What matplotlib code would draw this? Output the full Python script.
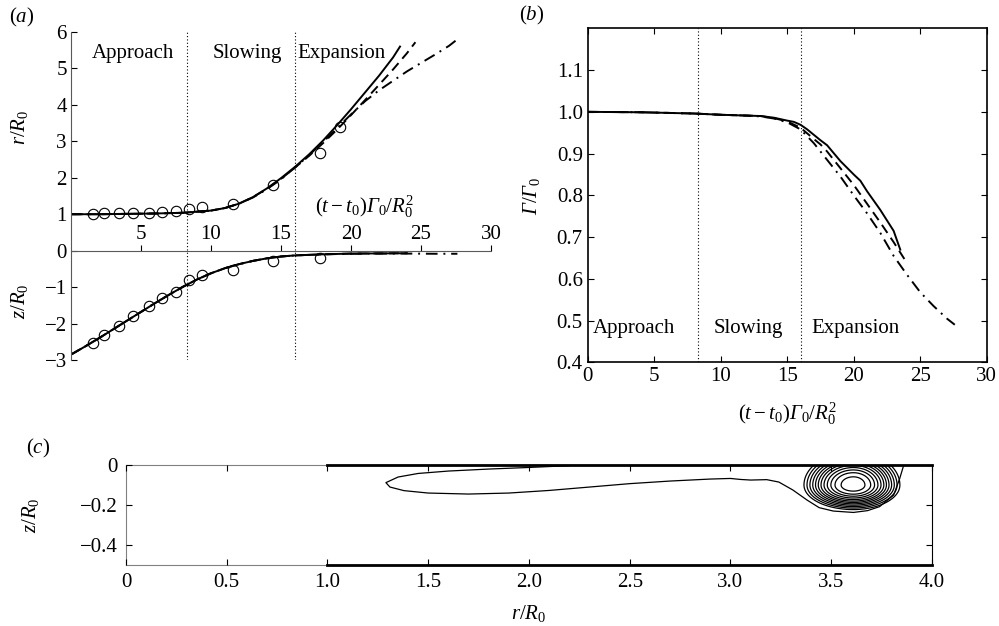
import numpy as np
import matplotlib
matplotlib.use("Agg")
import matplotlib.pyplot as plt

plt.rcParams['font.family'] = ['Liberation Serif', 'DejaVu Serif']
plt.rcParams['mathtext.fontset'] = 'custom'
plt.rcParams['mathtext.rm'] = 'Liberation Serif'
plt.rcParams['mathtext.it'] = 'Liberation Serif:italic'
plt.rcParams['mathtext.bf'] = 'Liberation Serif:bold'
# \mathsf is used only to get a slanted capital Gamma
plt.rcParams['mathtext.sf'] = 'Liberation Serif:italic'
plt.rcParams['font.size'] = 15

# ---- panel (a): ring radius r/R0 and height z/R0 vs time
t_exp = [1.6, 2.35, 3.45, 4.4, 5.55, 6.5, 7.5, 8.45, 9.35, 11.6, 14.4, 17.8, 19.2]
r_exp = [1.01, 1.03, 1.04, 1.04, 1.04, 1.06, 1.08, 1.15, 1.19, 1.29, 1.8, 2.68, 3.39]
z_exp = [-2.52, -2.32, -2.06, -1.79, -1.53, -1.30, -1.13, -0.81, -0.66, -0.54, -0.27, -0.20]

t_r_solid = [0, 2, 4, 6, 8, 9, 10, 11, 12, 13, 14, 15, 16, 17, 18, 19, 20, 21, 22, 23, 23.5]
r_solid = [1.0, 1.0, 1.01, 1.02, 1.04, 1.07, 1.1, 1.17, 1.29, 1.47, 1.71, 1.99, 2.3, 2.64,
           3.02, 3.44, 3.88, 4.34, 4.8, 5.3, 5.6]
t_r_dash = [0, 2, 4, 6, 8, 9, 10, 11, 12, 13, 14, 15, 16, 17, 18, 19, 20, 21, 22, 23, 24, 24.6]
r_dash = [1.0, 1.0, 1.01, 1.02, 1.04, 1.07, 1.1, 1.17, 1.29, 1.47, 1.7, 1.97, 2.28, 2.6,
          2.95, 3.32, 3.72, 4.13, 4.55, 4.97, 5.42, 5.72]
t_r_dd = [0, 2, 4, 6, 8, 9, 10, 11, 12, 13, 14, 15, 16, 17, 18, 19, 20, 21, 22, 23, 24, 25,
          26, 27, 27.6]
r_dd = [1.0, 1.0, 1.01, 1.02, 1.04, 1.07, 1.1, 1.17, 1.29, 1.46, 1.69, 1.96, 2.28, 2.62,
        2.98, 3.36, 3.74, 4.1, 4.4, 4.66, 4.92, 5.15, 5.38, 5.62, 5.8]

t_z = [0, 1, 2, 3, 4, 5, 6, 7, 8, 9, 10, 11, 12, 13, 14, 15, 16, 18, 20, 22, 24]
z_solid = [-2.85, -2.63, -2.40, -2.16, -1.92, -1.68, -1.44, -1.21, -0.99, -0.79, -0.62,
           -0.48, -0.37, -0.28, -0.21, -0.16, -0.13, -0.10, -0.08, -0.075, -0.07]
t_z_dd = [0, 1, 2, 3, 4, 5, 6, 7, 8, 9, 10, 11, 12, 13, 14, 15, 16, 18, 20, 22, 24, 26, 27.6]
z_dd = [-2.85, -2.63, -2.40, -2.16, -1.92, -1.68, -1.44, -1.21, -0.99, -0.79, -0.62,
        -0.48, -0.37, -0.28, -0.21, -0.16, -0.13, -0.10, -0.085, -0.08, -0.08, -0.085, -0.085]

# ---- panel (b): circulation
t_g_solid = [0, 4, 8, 10, 12, 13, 14, 15, 15.5, 16, 16.5, 17, 17.5, 18, 19, 20, 20.5, 21, 22,
             23, 23.5]
g_solid = [1.0, 0.999, 0.996, 0.993, 0.991, 0.99, 0.986, 0.979, 0.976, 0.969, 0.958, 0.945,
           0.932, 0.92, 0.882, 0.85, 0.835, 0.81, 0.765, 0.715, 0.67]
t_g_dash = [0, 4, 8, 10, 12, 13, 14, 15, 16, 17, 17.5, 18, 19, 20, 21, 22, 23, 24]
g_dash = [1.0, 0.999, 0.996, 0.993, 0.991, 0.99, 0.985, 0.977, 0.962, 0.935, 0.922, 0.905,
          0.865, 0.825, 0.78, 0.735, 0.688, 0.638]
t_g_dd = [0, 4, 8, 10, 12, 13, 14, 15, 16, 17, 18, 19, 20, 21, 22, 23, 24, 25, 26, 27, 27.6]
g_dd = [1.0, 0.999, 0.996, 0.993, 0.991, 0.989, 0.984, 0.975, 0.958, 0.925, 0.885, 0.845,
        0.80, 0.757, 0.71, 0.655, 0.61, 0.568, 0.535, 0.505, 0.49]

phase_bounds = [8.3, 16.0]
phase_names = ['Approach', 'Slowing', 'Expansion']

# ---- panel (c): vorticity contours
tail_r = [2.2, 2.0, 1.8, 1.6, 1.45, 1.35, 1.29, 1.31, 1.38, 1.5, 1.7, 1.9, 2.1, 2.3, 2.5,
          2.7, 2.9, 3.0, 3.05, 3.1, 3.18, 3.24, 3.31, 3.38, 3.44, 3.51, 3.61, 3.68, 3.74,
          3.81, 3.84, 3.86]
tail_z = [-0.003, -0.012, -0.02, -0.03, -0.042, -0.06, -0.088, -0.11, -0.128, -0.14, -0.145,
          -0.14, -0.127, -0.11, -0.093, -0.08, -0.07, -0.067, -0.072, -0.075, -0.073, -0.085,
          -0.125, -0.175, -0.213, -0.23, -0.237, -0.228, -0.208, -0.15, -0.067, 0.0]
core_r, core_z = 3.61, -0.10
core_sx = [0.17, 0.16]     # left / right spread
core_sz = [0.085, 0.115]   # below / above spread
core_levels = [0.125, 0.16, 0.2, 0.245, 0.295, 0.35, 0.41, 0.48, 0.56, 0.65, 0.75, 0.88]

fig = plt.figure(figsize=(9.99, 6.26), dpi=100)
GAM = r'\mathsf{\Gamma}'
tlabel = r'$(t-t_0)' + GAM + r'_0/R_0^2$'

# ================= (a)
ax1 = fig.add_axes([0.0711, 0.4249, 0.4204, 0.524])
ax1.set_xlim(0, 30)
ax1.set_ylim(-3, 6)
ax1.plot(t_r_solid, r_solid, 'k-', lw=1.4)
ax1.plot(t_r_dash, r_dash, 'k', ls=(0, (5, 3)), lw=1.4)
ax1.plot(t_r_dd, r_dd, 'k', ls=(0, (6, 3, 1, 3)), lw=1.4)
ax1.plot(t_z, z_solid, 'k-', lw=1.4)
ax1.plot(t_z, z_solid, 'k', ls=(0, (5, 3)), lw=1.4)
ax1.plot(t_z_dd, z_dd, 'k', ls=(0, (6, 3, 1, 3)), lw=1.4)
ax1.plot(t_exp, r_exp, 'o', mfc='none', mec='k', ms=7.5, mew=0.8)
ax1.plot(t_exp[:len(z_exp)], z_exp, 'o', mfc='none', mec='k', ms=7.5, mew=0.8)
for xb in phase_bounds:
    ax1.axvline(xb, color='k', ls=(0, (1, 2)), lw=0.8)
for xp, name in zip([1.5, 10.1, 16.15], phase_names):
    ax1.text(xp, 5.4, name, ha='left', va='center')

ax1.spines['right'].set_visible(False)
ax1.spines['bottom'].set_visible(False)
ax1.spines['top'].set_position(('data', 0))
ax1.spines['top'].set_color('0.35')
ax1.spines['left'].set_color('0.35')
ax1.xaxis.set_ticks_position('top')
ax1.set_xticks([5, 10, 15, 20, 25, 30])
ax1.set_yticks([6, 5, 4, 3, 2, 1, 0, -1, -2, -3])
ax1.tick_params(axis='x', direction='out', length=4, pad=1)
ax1.tick_params(axis='y', direction='in', length=4, pad=3)
ax1.text(21.0, 1.2, tlabel, ha='center', va='center')
ax1.text(-0.122, 0.71, r'$r/R_0$', transform=ax1.transAxes, rotation=90,
         ha='center', va='center')
ax1.text(-0.122, 0.18, r'$z/R_0$', transform=ax1.transAxes, rotation=90,
         ha='center', va='center')
fig.text(0.0215, 0.972, r'$(a)$', ha='center', va='center')

# ================= (b)
ax2 = fig.add_axes([0.5883, 0.4212, 0.3994, 0.5335])
ax2.set_xlim(0, 30)
ax2.set_ylim(0.4, 1.2)
ax2.plot(t_g_solid, g_solid, 'k-', lw=1.4)
ax2.plot(t_g_dash, g_dash, 'k', ls=(0, (5, 3)), lw=1.4)
ax2.plot(t_g_dd, g_dd, 'k', ls=(0, (6, 3, 1, 3)), lw=1.4)
for xb in phase_bounds:
    ax2.axvline(xb, color='k', ls=(0, (1, 2)), lw=0.8)
for xp, name in zip([0.37, 9.45, 16.85], phase_names):
    ax2.text(xp, 0.482, name, ha='left', va='center')
ax2.set_xticks([0, 5, 10, 15, 20, 25, 30])
ax2.set_yticks([0.4, 0.5, 0.6, 0.7, 0.8, 0.9, 1.0, 1.1])
ax2.set_yticklabels(['0.4', '0.5', '0.6', '0.7', '0.8', '0.9', '1.0', '1.1'])
ax2.tick_params(direction='in', top=True, right=True, length=4)
for s in ax2.spines.values():
    s.set_linewidth(1.2)
ax2.set_xlabel(tlabel, labelpad=10)
ax2.set_ylabel(r'$' + GAM + '/' + GAM + r'_0$')
ax2.yaxis.set_label_coords(-0.115, 0.5)
fig.text(0.5325, 0.975, r'$(b)$', ha='center', va='center')

# ================= (c)
ax3 = fig.add_axes([0.1261, 0.0974, 0.8068, 0.1597])
ax3.set_xlim(0, 4)
ax3.set_ylim(-0.5, 0)
rr, zz = np.meshgrid(np.linspace(3.0, 4.0, 400), np.linspace(-0.5, 0.0, 300))
sx = np.where(rr < core_r, core_sx[0], core_sx[1])
sz = np.where(zz < core_z, core_sz[0], core_sz[1])
psi = np.exp(-((rr - core_r) / sx) ** 2 - ((zz - core_z) / sz) ** 2)
ax3.contour(rr, zz, psi, levels=core_levels, colors='k', linewidths=0.9)
ax3.plot(tail_r, tail_z, 'k-', lw=0.9)
ax3.set_xticks([0, 0.5, 1.0, 1.5, 2.0, 2.5, 3.0, 3.5, 4.0])
ax3.set_xticklabels(['0', '0.5', '1.0', '1.5', '2.0', '2.5', '3.0', '3.5', '4.0'])
ax3.set_yticks([0, -0.2, -0.4])
ax3.set_yticklabels(['0', '\u22120.2', '\u22120.4'])
ax3.tick_params(direction='in', top=True, right=True, length=4, pad=6)
for side in ['left', 'top', 'bottom']:
    ax3.spines[side].set_color('0.5')
    ax3.spines[side].set_zorder(1)
ax3.axhline(0, xmin=0.25, xmax=1, color='k', lw=2.0, clip_on=False, zorder=3)
ax3.axhline(-0.5, xmin=0.25, xmax=1, color='k', lw=2.0, clip_on=False, zorder=3)
ax3.set_xlabel(r'$r/R_0$', labelpad=8)
ax3.set_ylabel(r'$z/R_0$')
ax3.yaxis.set_label_coords(-0.105, 0.5)
fig.text(0.038, 0.283, r'$(c)$', ha='center', va='center')

fig.savefig('out.png', dpi=100)
